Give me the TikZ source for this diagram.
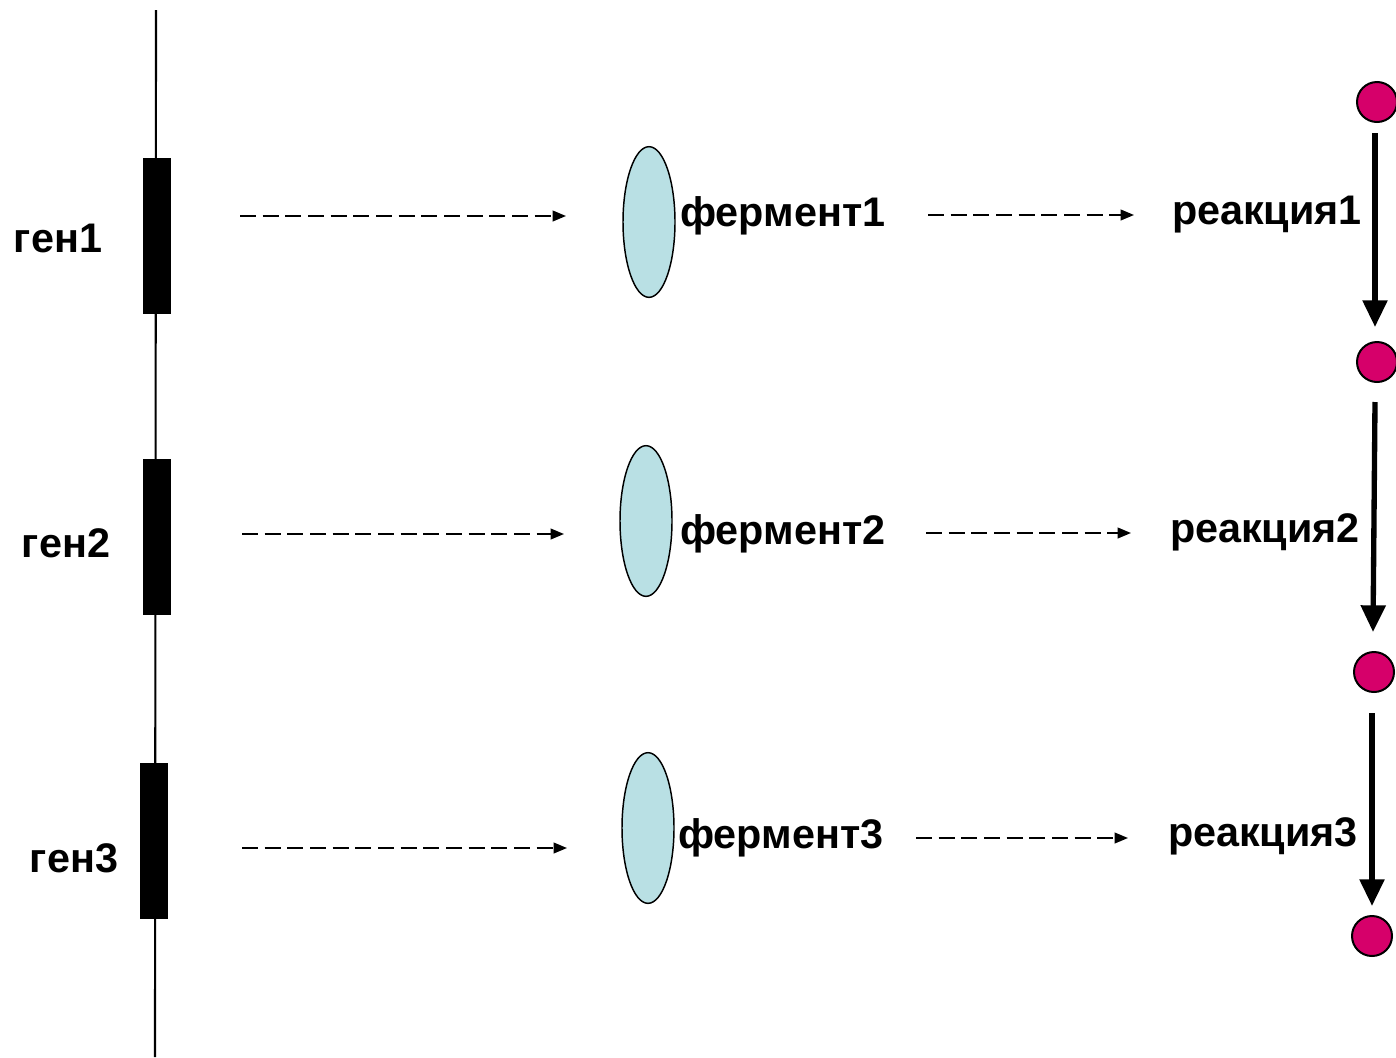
\documentclass[tikz,border=0pt]{standalone}
\usepackage{fontspec}
\setmainfont{Liberation Sans}
\usetikzlibrary{arrows.meta,shapes.geometric}
\definecolor{enz}{RGB}{185,224,228}
\definecolor{met}{RGB}{214,0,106}
\begin{document}
\begin{tikzpicture}[x=0.75pt,y=-0.75pt,
  lbl/.style={font=\bfseries\fontsize{31}{36}\selectfont,inner sep=0pt},
  genebox/.style={fill=black,draw=none,minimum width=21pt,minimum height=117pt,inner sep=0pt},
  enzyme/.style={ellipse,draw=black,line width=1.1pt,fill=enz,minimum width=39pt,minimum height=113pt,inner sep=0pt},
  metab/.style={circle,draw=black,line width=1.5pt,fill=met,minimum size=30pt,inner sep=0pt},
  dasharrow/.style={line width=1.4pt,dash pattern=on 12pt off 5pt,-{Triangle[length=10pt,width=8pt]}},
  reactarrow/.style={line width=4pt,-{Triangle[length=20pt,width=18pt]}}]
\useasboundingbox (0,0) rectangle (1396,1057);
% chromosome
\coordinate (ctop) at (156,10);
\coordinate (cbot) at (155,1057);
\draw[line width=1.6pt] (ctop) -- (cbot);
\node[genebox] (g1) at (157,236) {};
\node[genebox] (g2) at (157,537) {};
\node[genebox] (g3) at (154,841) {};
\node[lbl] (t1) at (58,238) {ген1};
\node[lbl] (t2) at (66,543) {ген2};
\node[lbl] (t3) at (74,858) {ген3};
% enzymes
\node[enzyme] (e1) at (649,222) {};
\node[enzyme] (e2) at (646,521) {};
\node[enzyme] (e3) at (648,828) {};
\node[lbl,anchor=west] (f1) at (680,216) {фермент1};
\node[lbl,anchor=west] (f2) at (680,534) {фермент2};
\node[lbl,anchor=west] (f3) at (678,838) {фермент3};
\node[lbl] (r1) at (1267,215) {реакция1};
\node[lbl] (r2) at (1265,532) {реакция2};
\node[lbl] (r3) at (1263,836) {реакция3};
% dashed arrows
\coordinate (a1s) at (240,216); \coordinate (a1e) at (566,216);
\coordinate (a2s) at (242,534); \coordinate (a2e) at (564,534);
\coordinate (a3s) at (242,848); \coordinate (a3e) at (567,848);
\draw[dasharrow] (a1s) -- (a1e);
\draw[dasharrow] (a2s) -- (a2e);
\draw[dasharrow] (a3s) -- (a3e);
\coordinate (b1s) at (928,215); \coordinate (b1e) at (1134,215);
\coordinate (b2s) at (926,533); \coordinate (b2e) at (1131,533);
\coordinate (b3s) at (916,838); \coordinate (b3e) at (1128,838);
\draw[dasharrow] (b1s) -- (b1e);
\draw[dasharrow] (b2s) -- (b2e);
\draw[dasharrow] (b3s) -- (b3e);
% metabolites
\node[metab] (m1) at (1377,102) {};
\node[metab] (m2) at (1377,362) {};
\node[metab] (m3) at (1374,672) {};
\node[metab] (m4) at (1372,936) {};
\coordinate (s1) at (1375,133); \coordinate (e1t) at (1375,327);
\coordinate (s2) at (1375,402); \coordinate (e2t) at (1373,632);
\coordinate (s3) at (1372,713); \coordinate (e3t) at (1372,906);
\draw[reactarrow] (s1) -- (e1t);
\draw[reactarrow] (s2) -- (e2t);
\draw[reactarrow] (s3) -- (e3t);
\end{tikzpicture}
\end{document}
